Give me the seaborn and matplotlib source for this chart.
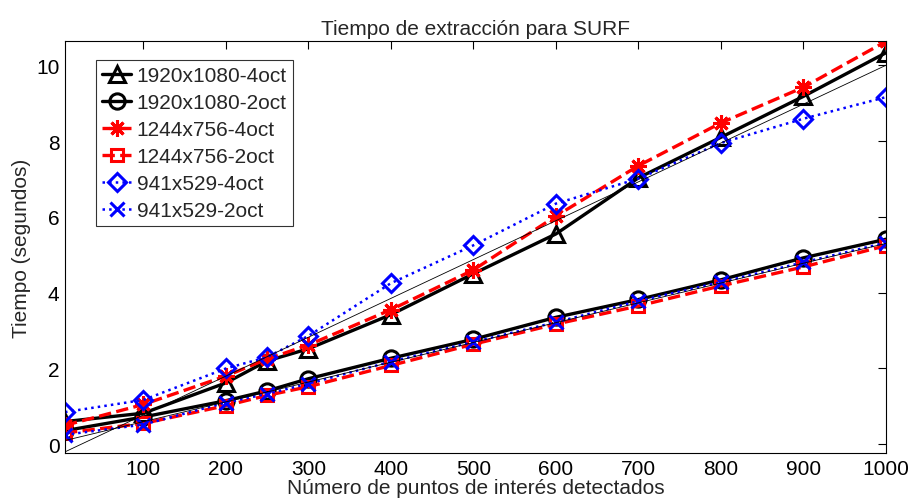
import numpy as np
import pandas as pd
import matplotlib
matplotlib.use("Agg")
import matplotlib.pyplot as plt
import seaborn as sns

# ---- data ----
puntos = [5, 100, 200, 250, 300, 400, 500, 600, 700, 800, 900, 1000]

hd_4oct = [0.60, 0.82, 1.62, 2.20, 2.52, 3.42, 4.50, 5.55, 7.03, 8.10, 9.18, 10.33]
hd_2oct = [0.36, 0.72, 1.15, 1.41, 1.73, 2.27, 2.77, 3.35, 3.82, 4.34, 4.92, 5.41]
m_4oct = [0.50, 1.05, 1.80, 2.25, 2.62, 3.55, 4.60, 6.02, 7.35, 8.48, 9.42, 10.63]
m_2oct = [0.30, 0.55, 1.02, 1.29, 1.52, 2.08, 2.64, 3.17, 3.65, 4.18, 4.68, 5.24]
s_4oct = [0.85, 1.17, 2.00, 2.30, 2.86, 4.25, 5.25, 6.35, 7.01, 7.95, 8.59, 9.16]
s_2oct = [0.25, 0.52, 1.10, 1.33, 1.60, 2.18, 2.70, 3.22, 3.78, 4.28, 4.80, 5.32]

labels = ["1920x1080-4oct", "1920x1080-2oct", "1244x756-4oct",
          "1244x756-2oct", "941x529-4oct", "941x529-2oct"]

ref_x = [5, 1000]
ref_y1 = [-0.20, 10.0]
ref_y2 = [0.10, 5.30]

x_ticks = [100, 200, 300, 400, 500, 600, 700, 800, 900, 1000]
y_ticks = [0, 2, 4, 6, 8, 10]

title = "Tiempo de extracción para SURF"
xlabel = "Número de puntos de interés detectados"
ylabel = "Tiempo (segundos)"

# ---- plot ----
sns.set_style("white")
plt.rcParams['font.family'] = ['Liberation Sans', 'DejaVu Sans']

fig = plt.figure(figsize=(9.12, 5.02), dpi=100)
ax = fig.add_axes([65/912, 1-454/502, (886-65)/912, (454-42)/502])

series = [hd_4oct, hd_2oct, m_4oct, m_2oct, s_4oct, s_2oct]
styles = [
    dict(color="black", linestyle="-", marker="^", markersize=12, linewidth=2.4),
    dict(color="black", linestyle="-", marker="o", markersize=11, linewidth=2.4),
    dict(color="red", linestyle="--", marker=(8, 2, 0), markersize=12, linewidth=2.4),
    dict(color="red", linestyle="--", marker="s", markersize=9, linewidth=2.4),
    dict(color="blue", linestyle=":", marker="D", markersize=9.5, linewidth=1.8),
    dict(color="blue", linestyle=":", marker="x", markersize=10, linewidth=1.8),
]

for vals, lab, st in zip(series, labels, styles):
    df = pd.DataFrame({"x": puntos, "y": vals})
    sns.lineplot(data=df, x="x", y="y", ax=ax, label=lab, color=st["color"],
                 linestyle=st["linestyle"], marker=st["marker"],
                 markersize=st["markersize"], linewidth=st["linewidth"],
                 markerfacecolor="none", markeredgecolor=st["color"],
                 markeredgewidth=2.2, estimator=None, sort=False)

for ry in (ref_y1, ref_y2):
    sns.lineplot(x=ref_x, y=ry, ax=ax, color="black", linewidth=0.6,
                 estimator=None, legend=False)

ax.set_xlim(5, 1000)
ax.set_ylim(-0.23, 10.64)
ax.set_xticks(x_ticks)
ax.set_yticks(y_ticks)
ax.tick_params(direction="in", length=6, width=0.8, top=True, right=True,
               labelsize=15, colors="black", pad=4)
for sp in ax.spines.values():
    sp.set_visible(True)
    sp.set_color("black")
    sp.set_linewidth(0.8)

ax.set_title(title, fontsize=15, pad=5)
ax.set_xlabel(xlabel, fontsize=15, labelpad=0)
ax.set_ylabel(ylabel, fontsize=15, labelpad=4)

leg = ax.legend(loc="upper left", bbox_to_anchor=(31/821, 1-19/412),
                fontsize=15, frameon=True, fancybox=False, edgecolor="black",
                handlelength=1.4, handletextpad=0.25, borderpad=0.3,
                labelspacing=0.38, borderaxespad=0)
leg.get_frame().set_linewidth(0.8)

fig.savefig("out.png", dpi=100)
